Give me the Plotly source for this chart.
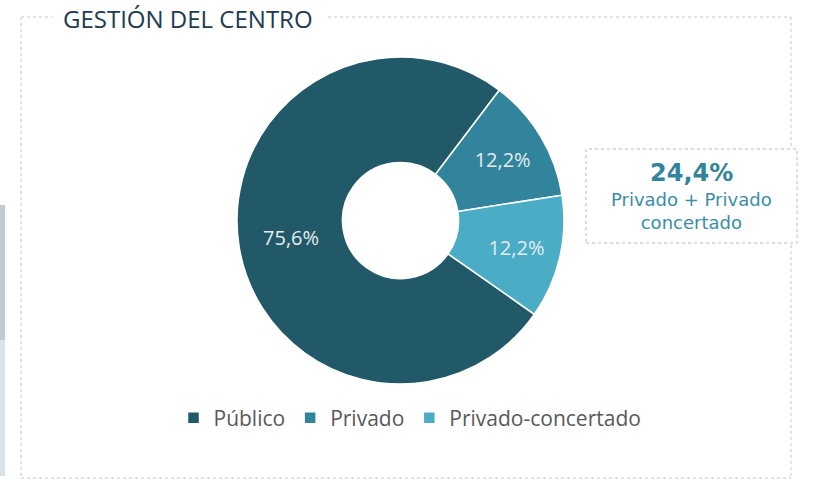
import plotly.graph_objects as go

categories = ["Público", "Privado", "Privado-concertado"]
values = [75.6, 12.2, 12.2]
value_labels = ["75,6%", "12,2%", "12,2%"]
colors = ["#215968", "#31849b", "#4bacc6"]
title_text = "GESTIÓN DEL CENTRO"
callout_value = "24,4%"
callout_lines = ["Privado + Privado", "concertado"]

W, H = 820, 490

def px(x):
    return x / W

def py(y):
    return 1 - y / H

fig = go.Figure()
fig.add_trace(go.Pie(
    labels=categories,
    values=values,
    text=value_labels,
    textinfo="text",
    hoverinfo="label+percent",
    sort=False,
    direction="clockwise",
    rotation=125,
    hole=0.355,
    marker=dict(colors=colors, line=dict(color="white", width=1.5)),
    textposition="inside",
    insidetextorientation="horizontal",
    textfont=dict(family="Open Sans", size=20, color="#e4ecee"),
    domain=dict(x=[px(237), px(564)], y=[py(384), py(57)]),
))

dot = dict(color="#c4c4c4", width=1, dash="dot")
shapes = [
    # frame
    dict(type="line", xref="paper", yref="paper", x0=px(21), x1=px(52), y0=py(17), y1=py(17), line=dot),
    dict(type="line", xref="paper", yref="paper", x0=px(328), x1=px(791), y0=py(17), y1=py(17), line=dot),
    dict(type="line", xref="paper", yref="paper", x0=px(21), x1=px(21), y0=py(17), y1=py(478), line=dot),
    dict(type="line", xref="paper", yref="paper", x0=px(791), x1=px(791), y0=py(17), y1=py(478), line=dot),
    dict(type="line", xref="paper", yref="paper", x0=px(21), x1=px(791), y0=py(478), y1=py(478), line=dot),
    # callout box
    dict(type="rect", xref="paper", yref="paper", x0=px(586), x1=px(797), y0=py(243), y1=py(149),
         line=dict(color="#b8b8b8", width=1, dash="dot"), fillcolor="white", layer="above"),
    # left edge strip
    dict(type="rect", xref="paper", yref="paper", x0=0, x1=px(5), y0=py(340), y1=py(205),
         line=dict(width=0), fillcolor="#c3cad3"),
    dict(type="rect", xref="paper", yref="paper", x0=0, x1=px(5), y0=py(476), y1=py(340),
         line=dict(width=0), fillcolor="#d8e3ec"),
]

annotations = [
    dict(text=title_text, xref="paper", yref="paper", x=px(61), y=py(18),
         xanchor="left", yanchor="middle", showarrow=False,
         font=dict(family="Open Sans", size=24, color="#213a4f")),
    dict(text="<b>" + callout_value + "</b>", xref="paper", yref="paper", x=px(691), y=py(173),
         xanchor="center", yanchor="middle", showarrow=False,
         font=dict(family="DejaVu Sans", size=24, color="#31849b")),
    dict(text="<br>".join(callout_lines), xref="paper", yref="paper", x=px(691), y=py(211),
         xanchor="center", yanchor="middle", showarrow=False,
         font=dict(family="DejaVu Sans", size=18, color="#3a8ea5"), align="center"),
]

fig.update_layout(
    width=W, height=H,
    margin=dict(l=0, r=0, t=0, b=0),
    paper_bgcolor="white",
    plot_bgcolor="white",
    shapes=shapes,
    annotations=annotations,
    showlegend=True,
    legend=dict(orientation="h", x=0.5, xanchor="center", y=py(418), yanchor="middle",
                font=dict(family="Open Sans", size=21, color="#595959"),
                itemwidth=30, traceorder="normal", bgcolor="rgba(0,0,0,0)"),
)

fig.write_html("out.html", config={"displayModeBar": False},
               post_script="document.body.style.margin='0';document.body.style.overflow='hidden';")
